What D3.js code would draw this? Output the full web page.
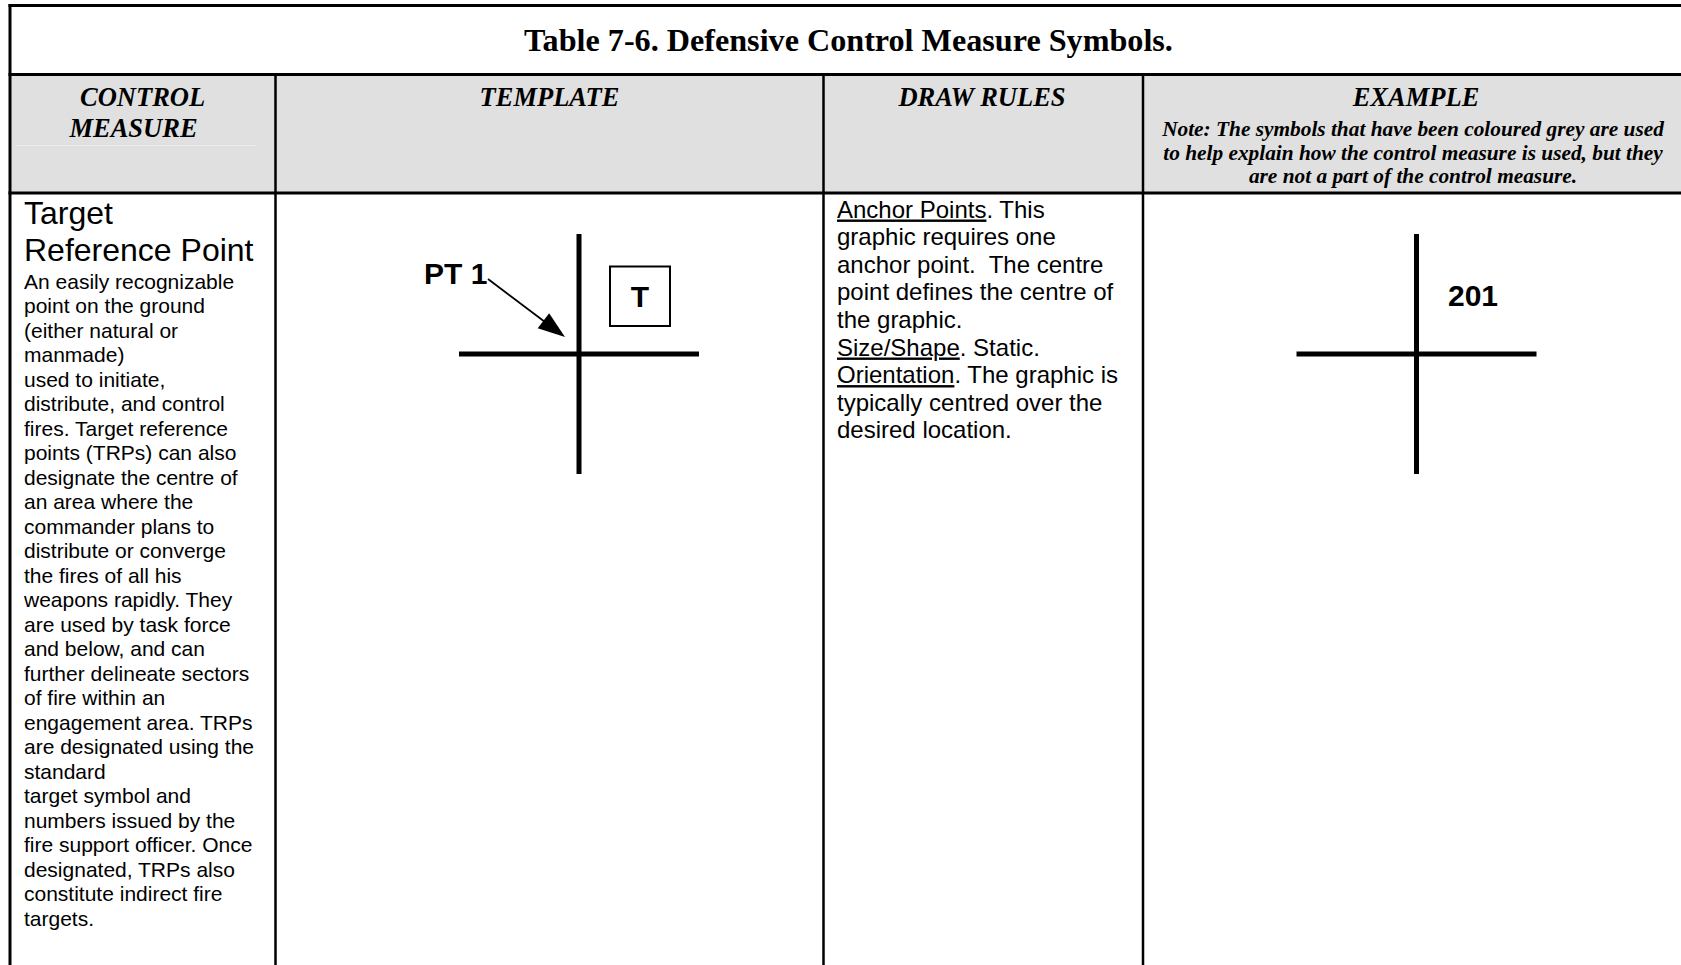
<!DOCTYPE html>
<html>
<head>
<meta charset="utf-8">
<script src="https://cdn.jsdelivr.net/npm/d3@7/dist/d3.min.js"></script>
<style>
  html, body { margin: 0; padding: 0; background: #ffffff; }
  svg { display: block; }
  text { white-space: pre; }
</style>
</head>
<body>
<svg id="chart" width="1681" height="965"></svg>
<script>
// ---------------- DATA ----------------
const tableTitle = "Table 7-6. Defensive Control Measure Symbols.";
const headerLabels = [["CONTROL", "MEASURE"], ["TEMPLATE"], ["DRAW RULES"], ["EXAMPLE"]];
const exampleNote = [
  "Note: The symbols that have been coloured grey are used",
  "to help explain how the control measure is used, but they",
  "are not a part of the control measure."
];
const measureName = ["Target", "Reference Point"];
const measureDescription = [
  "An easily recognizable",
  "point on the ground",
  "(either natural or",
  "manmade)",
  "used to initiate,",
  "distribute, and control",
  "fires. Target reference",
  "points (TRPs) can also",
  "designate the centre of",
  "an area where the",
  "commander plans to",
  "distribute or converge",
  "the fires of all his",
  "weapons rapidly. They",
  "are used by task force",
  "and below, and can",
  "further delineate sectors",
  "of fire within an",
  "engagement area. TRPs",
  "are designated using the",
  "standard",
  "target symbol and",
  "numbers issued by the",
  "fire support officer. Once",
  "designated, TRPs also",
  "constitute indirect fire",
  "targets."
];
const drawRules = [
  [{t: "Anchor Points", u: true}, {t: ". This"}],
  [{t: "graphic requires one"}],
  [{t: "anchor point.  The centre"}],
  [{t: "point defines the centre of"}],
  [{t: "the graphic."}],
  [{t: "Size/Shape", u: true}, {t: ". Static."}],
  [{t: "Orientation", u: true}, {t: ". The graphic is"}],
  [{t: "typically centred over the"}],
  [{t: "desired location."}]
];
const templateLabels = {point: "PT 1", box: "T"};
const exampleLabel = "201";

// ---------------- LAYOUT ----------------
const W = 1681, H = 965;
const svg = d3.select("#chart");
const serif = "'Liberation Serif', 'Times New Roman', serif";
const sans = "'Liberation Sans', Arial, sans-serif";

// column boundaries (x) and row boundaries (y)
const colEdges = [10, 275.5, 823.5, 1143, 1687];
const rowEdges = {top: 5.5, titleBottom: 74.5, headerBottom: 193, bottom: 965};
const colCenter = i => (colEdges[i] + colEdges[i + 1]) / 2;

// header background
svg.append("rect")
  .attr("x", colEdges[0]).attr("y", rowEdges.titleBottom)
  .attr("width", W - colEdges[0]).attr("height", rowEdges.headerBottom - rowEdges.titleBottom)
  .attr("fill", "#e0e0e0");

// faint rule under CONTROL MEASURE
svg.append("line")
  .attr("x1", 16).attr("x2", 257).attr("y1", 145.5).attr("y2", 145.5)
  .attr("stroke", "#ececec").attr("stroke-width", 1);

// fit helper
function fitWidth(sel, target) {
  const base = parseFloat(sel.attr("font-size"));
  const w = sel.node().getComputedTextLength();
  const fs = base * target / w;
  sel.attr("font-size", fs);
  return fs;
}

// title
const titleSel = svg.append("text")
  .attr("x", (colEdges[0] + colEdges[4]) / 2).attr("y", 51)
  .attr("text-anchor", "middle")
  .attr("font-family", serif).attr("font-weight", "bold")
  .attr("font-size", 32).attr("fill", "#000")
  .text(tableTitle);
fitWidth(titleSel, 649);

// header labels
const headerX = [[142.6, 133.5], [549.5], [982], [1416]];
const headerY = [106, 136.5];
headerLabels.forEach((lines, ci) => {
  lines.forEach((ln, li) => {
    svg.append("text")
      .attr("x", headerX[ci][li]).attr("y", headerY[li])
      .attr("text-anchor", "middle")
      .attr("font-family", serif).attr("font-weight", "bold").attr("font-style", "italic")
      .attr("font-size", 26.5).attr("fill", "#000")
      .text(ln);
  });
});

// example note
const noteY = d3.scaleLinear().domain([0, 1]).range([136, 159.7]);
let noteFs = null;
exampleNote.forEach((ln, i) => {
  const t = svg.append("text")
    .attr("x", 1413).attr("y", noteY(i))
    .attr("text-anchor", "middle")
    .attr("font-family", serif).attr("font-weight", "bold").attr("font-style", "italic")
    .attr("font-size", noteFs || 19).attr("fill", "#000")
    .text(ln);
  if (i === 0) noteFs = fitWidth(t, 502);
});

// column 1: measure name and description
const nameY = d3.scaleLinear().domain([0, 1]).range([224, 260.5]);
measureName.forEach((ln, i) => {
  svg.append("text")
    .attr("x", 24).attr("y", nameY(i))
    .attr("font-family", sans).attr("font-size", 32).attr("fill", "#000")
    .text(ln);
});
const descY = d3.scaleLinear().domain([0, 1]).range([288.5, 313]);
svg.append("g").selectAll("text").data(measureDescription).join("text")
  .attr("x", 24).attr("y", (d, i) => descY(i))
  .attr("font-family", sans).attr("font-size", 21).attr("fill", "#000")
  .text(d => d);

// column 3: draw rules
const ruleY = d3.scaleLinear().domain([0, 1]).range([217.5, 245.1]);
drawRules.forEach((segs, i) => {
  const t = svg.append("text")
    .attr("x", 837).attr("y", ruleY(i))
    .attr("font-family", sans).attr("font-size", 24).attr("fill", "#000");
  segs.forEach(s => {
    t.append("tspan").text(s.t)
      .style("text-decoration", s.u ? "underline" : "none");
  });
});

// symbols
function cross(g, cx, cy, halfW, halfH) {
  g.append("line").attr("x1", cx).attr("x2", cx).attr("y1", cy - halfH).attr("y2", cy + halfH)
    .attr("stroke", "#000").attr("stroke-width", 5);
  g.append("line").attr("x1", cx - halfW).attr("x2", cx + halfW).attr("y1", cy).attr("y2", cy)
    .attr("stroke", "#000").attr("stroke-width", 5);
}
const sym = svg.append("g");
cross(sym, 579, 354, 120, 120);
cross(sym, 1416.5, 354, 120, 120);

// PT 1 label and arrow
sym.append("text").attr("x", 424).attr("y", 284)
  .attr("font-family", sans).attr("font-weight", "bold").attr("font-size", 30).attr("fill", "#000")
  .text(templateLabels.point);
const a0 = [488, 279], a1 = [565, 337];
const dx = a1[0] - a0[0], dy = a1[1] - a0[1], len = Math.hypot(dx, dy);
const ux = dx / len, uy = dy / len, headL = 27, headW = 9.5;
const bx = a1[0] - ux * headL, by = a1[1] - uy * headL;
sym.append("line").attr("x1", a0[0]).attr("y1", a0[1]).attr("x2", bx + ux * 2).attr("y2", by + uy * 2)
  .attr("stroke", "#000").attr("stroke-width", 1.8);
sym.append("path")
  .attr("d", d3.line()([[a1[0], a1[1]], [bx - uy * headW, by + ux * headW], [bx + uy * headW, by - ux * headW]]) + "Z")
  .attr("fill", "#000");

// T box
sym.append("rect").attr("x", 610).attr("y", 266.5).attr("width", 60).attr("height", 59.5)
  .attr("fill", "none").attr("stroke", "#000").attr("stroke-width", 2);
sym.append("text").attr("x", 640).attr("y", 307)
  .attr("text-anchor", "middle")
  .attr("font-family", sans).attr("font-weight", "bold").attr("font-size", 30).attr("fill", "#000")
  .text(templateLabels.box);

// 201 label
sym.append("text").attr("x", 1448).attr("y", 306)
  .attr("font-family", sans).attr("font-weight", "bold").attr("font-size", 30).attr("fill", "#000")
  .text(exampleLabel);

// grid lines
const grid = svg.append("g").attr("stroke", "#000");
grid.append("line").attr("x1", colEdges[0]).attr("x2", colEdges[0])
  .attr("y1", rowEdges.top - 1.5).attr("y2", rowEdges.bottom).attr("stroke-width", 3);
[rowEdges.top, rowEdges.titleBottom, rowEdges.headerBottom].forEach(y => {
  grid.append("line").attr("x1", colEdges[0] - 1.5).attr("x2", W).attr("y1", y).attr("y2", y)
    .attr("stroke-width", 3);
});
colEdges.slice(1, 4).forEach(x => {
  grid.append("line").attr("x1", x).attr("x2", x)
    .attr("y1", rowEdges.titleBottom).attr("y2", rowEdges.bottom).attr("stroke-width", 2.5);
});
</script>
</body>
</html>
